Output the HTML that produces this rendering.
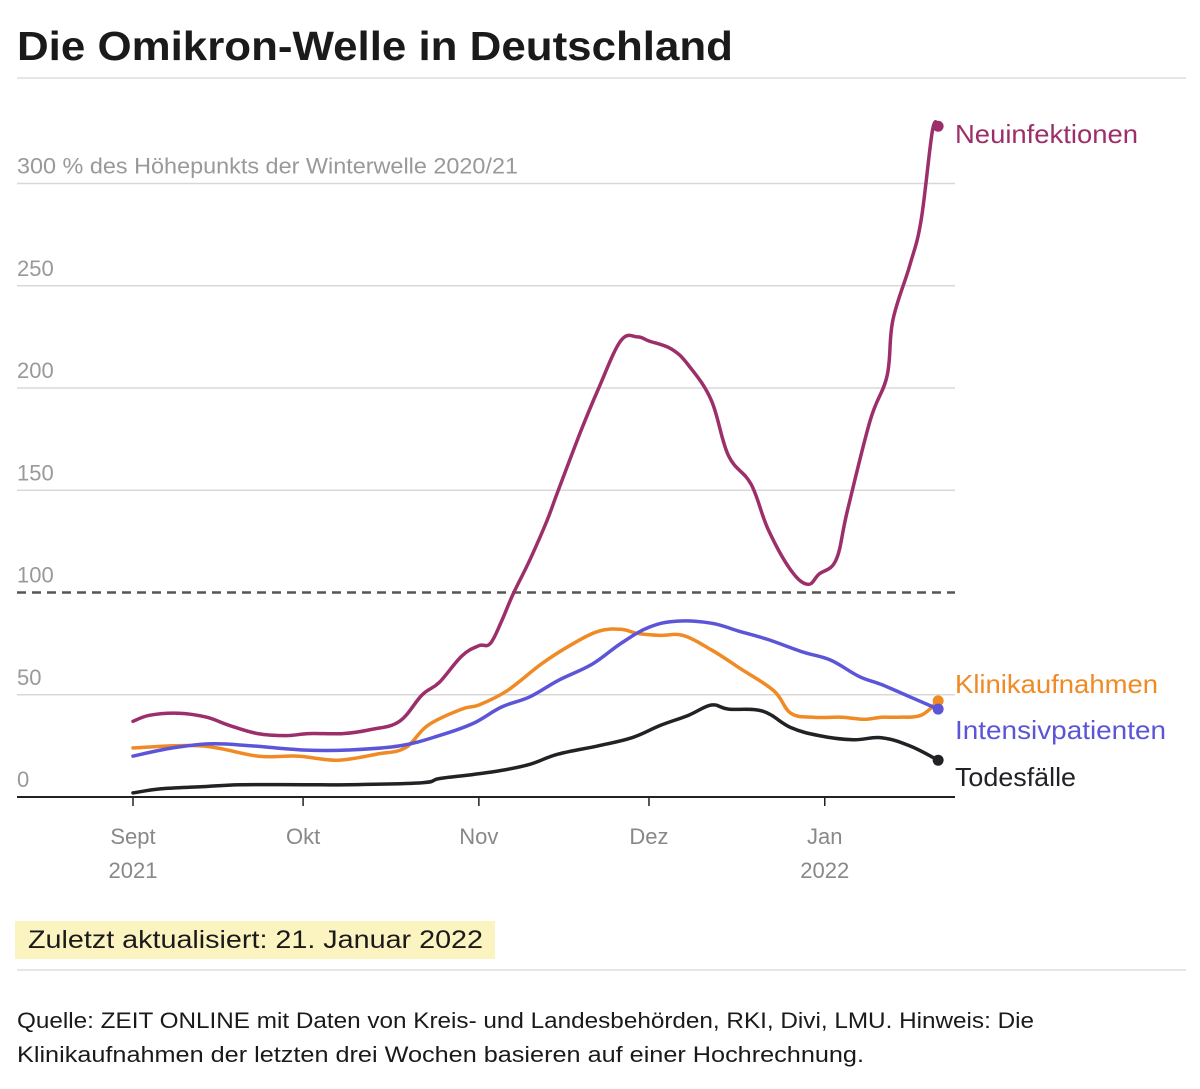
<!DOCTYPE html>
<html><head><meta charset="utf-8">
<style>
html,body{margin:0;padding:0;background:#fff;}
svg{display:block;font-family:"Liberation Sans",sans-serif;}
</style></head>
<body>
<svg id="chart" width="1200" height="1089" viewBox="0 0 1200 1089">
<text x="17" y="60" font-size="41" font-weight="bold" fill="#1a1a1a" textLength="716" lengthAdjust="spacingAndGlyphs">Die Omikron-Welle in Deutschland</text>
<line x1="17" y1="78" x2="1186" y2="78" stroke="#ddd" stroke-width="1.5"/>
<g id="grid"></g>
<g id="series"></g>
<rect x="15" y="921" width="480" height="38" fill="#fcf4c0"/>
<text x="28" y="948" font-size="25" fill="#1a1a1a" textLength="455" lengthAdjust="spacingAndGlyphs">Zuletzt aktualisiert: 21. Januar 2022</text>
<line x1="17" y1="970" x2="1186" y2="970" stroke="#ddd" stroke-width="1.5"/>
<text x="17" y="1028" font-size="22" fill="#1a1a1a" textLength="1017" lengthAdjust="spacingAndGlyphs">Quelle: ZEIT ONLINE mit Daten von Kreis- und Landesbehörden, RKI, Divi, LMU. Hinweis: Die</text>
<text x="17" y="1062" font-size="22" fill="#1a1a1a" textLength="847" lengthAdjust="spacingAndGlyphs">Klinikaufnahmen der letzten drei Wochen basieren auf einer Hochrechnung.</text>
</svg>
<script>
const yTicks=[0,50,100,150,200,250,300];
const yTickLabels=["0","50","100","150","200","250","300 % des Höhepunkts der Winterwelle 2020/21"];
const monthDays=[0,30,61,91,122];
const monthLabels=["Sept","Okt","Nov","Dez","Jan"];
const yearLabels=["2021","","","","2022"];
const neuDays=[0,3,8,13,17,22,27,31,37,42,47,51,54,58,61,63,65,67,70,73,75,79,82,86,89,91,95,98,102,105,109,112,116,119,121,124,126,130,133,134,137,139,141,142];
const neuVals=[37,40,41,39,35,31,30,31,31,33,37,50,56,69,74,75,86,99,116,135,150,179,199,223,225,223,219,211,194,167,153,131,111,104,109,116,140,184,206,233,260,282,326,328];
const klinDays=[0,12,22,29,36,43,48,52,58,61,66,72,77,82,86,89,93,97,102,107,113,116,120,125,129,132,135,139,142];
const klinVals=[24,25,20,20,18,21,24,35,43,45,52,65,74,81,82,80,79,79,72,63,52,41,39,39,38,39,39,40,47];
const itsDays=[0,7,14,21,30,38,47,54,60,65,70,75,81,86,91,96,102,107,112,118,123,128,132,137,142];
const itsVals=[20,24,26,25,23,23,25,30,36,44,49,57,65,75,83,86,85,81,77,71,67,59,55,49,43];
const todDays=[0,5,12,19,30,38,51,54,60,65,70,75,82,88,93,98,102,105,111,116,121,127,132,137,142];
const todVals=[2,4,5,6,6,6,7,9,11,13,16,21,25,29,35,40,45,43,42,34,30,28,29,25,18];
const seriesNames=["Neuinfektionen","Klinikaufnahmen","Intensivpatienten","Todesfälle"];

const NS="http://www.w3.org/2000/svg";
const x=d=>133+d*5.67;
const y=v=>797-v*2.045;
function mk(tag,attrs,parent){const e=document.createElementNS(NS,tag);for(const k in attrs)e.setAttribute(k,attrs[k]);parent.appendChild(e);return e;}
function smooth(P){
  let d='M'+P[0][0].toFixed(1)+','+P[0][1].toFixed(1);
  for(let i=0;i<P.length-1;i++){
    const p0=P[Math.max(0,i-1)],p1=P[i],p2=P[i+1],p3=P[Math.min(P.length-1,i+2)];
    const t=0.18;
    const c1=[p1[0]+(p2[0]-p0[0])*t,p1[1]+(p2[1]-p0[1])*t];
    const c2=[p2[0]-(p3[0]-p1[0])*t,p2[1]-(p3[1]-p1[1])*t];
    d+=' C'+c1[0].toFixed(1)+','+c1[1].toFixed(1)+' '+c2[0].toFixed(1)+','+c2[1].toFixed(1)+' '+p2[0].toFixed(1)+','+p2[1].toFixed(1);
  }
  return d;
}
const grid=document.getElementById('grid'), ser=document.getElementById('series');
yTicks.forEach((t,i)=>{
  if(t>0){
    const l=mk('line',{x1:17,x2:955,y1:y(t),y2:y(t),stroke:t===100?'#555':'#d8d8d8','stroke-width':t===100?2.5:1.5},grid);
    if(t===100)l.setAttribute('stroke-dasharray','9,6');
    
    
  }
  const tx=mk('text',{x:17,y:y(t)-10,'font-size':22,fill:'#999'},grid);
  if(t===300){tx.setAttribute('textLength','501');tx.setAttribute('lengthAdjust','spacingAndGlyphs');}
  tx.textContent=yTickLabels[i];
  
  
});
const ax=mk('line',{x1:17,x2:955,y1:797,y2:797,stroke:'#222','stroke-width':2},grid);


monthDays.forEach((d,i)=>{
  const tk=mk('line',{x1:x(d),x2:x(d),y1:797,y2:806,stroke:'#222','stroke-width':1.5},grid);
  
  
  const t=mk('text',{x:x(d),y:844,'font-size':22,fill:'#888','text-anchor':'middle'},grid);
  t.textContent=monthLabels[i];
  
  
  if(yearLabels[i]){
    const t2=mk('text',{x:x(d),y:878,'font-size':22,fill:'#888','text-anchor':'middle'},grid);
    t2.textContent=yearLabels[i];
    
    
  }
});
const defs=[[neuDays,neuVals,'#9c2f6a',134,183],[klinDays,klinVals,'#f08a24',684,203],[itsDays,itsVals,'#5c55d8',730,211],[todDays,todVals,'#222226',777,121]];
const keys=['neuinfektionen','klinikaufnahmen','intensivpatienten','todesfaelle'];
defs.forEach((s,i)=>{
  const [ds,vs,c,ly,lw]=s;
  const P=ds.map((d,j)=>[x(d),y(vs[j])]);
  const p=mk('path',{d:smooth(P),fill:'none',stroke:c,'stroke-width':3.5,'stroke-linejoin':'round','stroke-linecap':'round'},ser);
  
  
  const n=ds.length-1;
  const dot=mk('circle',{cx:x(ds[n]),cy:y(vs[n]),r:5.5,fill:c},ser);
  
  
  const lb=mk('text',{x:955,y:ly+9,'font-size':26,fill:c,textLength:lw,lengthAdjust:'spacingAndGlyphs'},ser);
  lb.textContent=seriesNames[i];
  
  
});
</script>
</body></html>
